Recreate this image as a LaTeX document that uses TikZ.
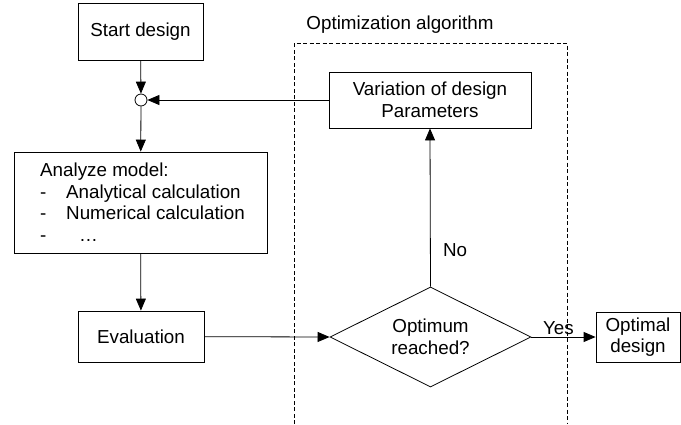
\documentclass[tikz,border=0pt]{standalone}
\usepackage{fontspec}
\setmainfont{Liberation Sans}
\usetikzlibrary{arrows.meta,shapes.geometric}
\begin{document}
\begin{tikzpicture}[x=1pt,y=-1pt,
  every node/.style={font=\fontsize{18.8}{21.5}\selectfont},
  box/.style={draw,line width=0.8pt,rectangle,inner sep=0pt,align=center},
  arr/.style={line width=0.8pt,-{Triangle[length=12pt,width=10pt]}},
  frame/.style={line width=0.8pt,dash pattern=on 4pt off 2.5pt}]
\useasboundingbox (0,0) rectangle (681,424);
% dashed frame
\coordinate (fbl) at (294,424);
\coordinate (ftl) at (294,43);
\coordinate (ftr) at (567,43);
\coordinate (fbr) at (567,424);
\draw[frame] (fbl) -- (ftl) -- (ftr) -- (fbr);
\node (opttitle) at (400,25) {Optimization algorithm};
% nodes
\node[box,minimum width=125pt,minimum height=57pt] (start) at (140.5,31.5) {Start design};
\node[draw,circle,line width=0.8pt,minimum size=12pt,inner sep=0pt] (join) at (141,100) {};
\node[box,minimum width=253pt,minimum height=101pt] (ana) at (140.5,202.5) {};
\node[anchor=north west,align=left,inner sep=0pt] (anatext) at (40,163)
  {Analyze model:\\
   \makebox[26pt][l]{-}Analytical calculation\\
   \makebox[26pt][l]{-}Numerical calculation\\
   \makebox[26pt][l]{-}\hspace{13pt}…};
\node[box,minimum width=126pt,minimum height=51pt] (eval) at (141,336.5) {Evaluation};
\node[box,minimum width=202pt,minimum height=56pt] (var) at (430,100) {Variation of design\\Parameters};
\node[draw,diamond,line width=0.8pt,aspect=2,inner sep=0pt,minimum width=201pt,minimum height=100pt] (opt) at (430.5,337) {};
\node[align=center] (opttext) at (430.5,337) {Optimum\\reached?};
\node[box,minimum width=84pt,minimum height=50pt] (final) at (638,337) {Optimal\\design};
% connectors
\draw[arr] (start) -- (join);
\draw[arr] (join) -- (ana);
\draw[arr] (var.west) -- (join);
\draw[arr] (ana) -- (eval);
\draw[arr] (eval) -- (opt.west);
\draw[arr] (opt.north) -- node[pos=0.23,right,xshift=9pt] (nolabel) {No} (var.south);
\draw[arr] (opt.east) -- node[above,xshift=-5pt,yshift=-1pt] (yeslabel) {Yes} (final.west);
\end{tikzpicture}
\end{document}
